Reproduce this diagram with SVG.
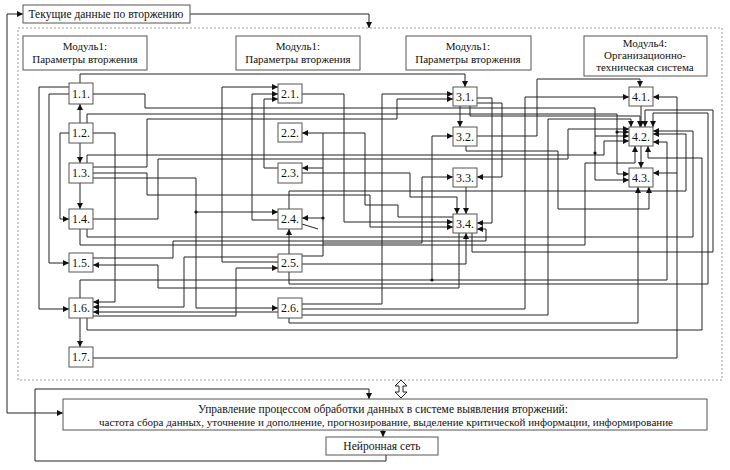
<svg xmlns="http://www.w3.org/2000/svg" width="730" height="470" viewBox="0 0 730 470">
<style>
.bx{fill:#fff;stroke:#555;stroke-width:1}
.t{font-family:"Liberation Serif","Times New Roman",serif;font-size:11px;fill:#111;text-anchor:middle}
.n{font-size:12px}
.c{fill:none;stroke:#222;stroke-width:1}
.a{marker-end:url(#ah)}
.dash{fill:none;stroke:#999;stroke-width:1;stroke-dasharray:2,2}
</style>
<defs>
<marker id="ah" viewBox="0 0 6 6" refX="6" refY="3" markerWidth="6" markerHeight="6" markerUnits="userSpaceOnUse" orient="auto">
<path d="M0,0 L6,3 L0,6 z" fill="#111"/>
</marker>
</defs>
<rect width="730" height="470" fill="#fff"/>
<rect class="dash" x="18" y="28" width="704" height="352"/>

<g id="connectors">
<polyline class="c a" points="190,14 369,14 369,28"/>
<polyline class="c a" points="7,14 23,14"/>
<polyline class="c a" points="7,14 7,413 63,413"/>
<polyline class="c a" points="386,455 386,461 35,461 35,389 369,389 369,399"/>
<polyline class="c a" points="383,430 383,437"/>

<polyline class="c a" points="80,123 80,104"/>
<polyline class="c a" points="80,143 80,163"/>
<polyline class="c a" points="80,183 80,209"/>
<polyline class="c a" points="80,318 80,347"/>
<polyline class="c a" points="69,87 39,87 39,309 69,309"/>
<polyline class="c a" points="69,94 49,94 49,263 69,263"/>
<polyline class="c a" points="69,133 60,133 60,219 69,219"/>
<polyline class="c a" points="93,133 115,133 115,302 93,302"/>

<polyline class="c a" points="80,83 80,74 465,74 465,87"/>
<polyline class="c a" points="93,94 145,94 145,108 595,108 595,180 629,180"/>
<polyline class="c a" points="595,136 629,136"/>
<polyline class="c a" points="87,123 87,114 617,114 617,174 629,174"/>
<polyline class="c a" points="617,132 629,132"/>
<polyline class="c a" points="93,167 147,167 147,119 397,119 397,99 453,99"/>
<polyline class="c a" points="93,173 147,173 147,195 370,195 370,227 453,227"/>
<polyline class="c a" points="93,178 196,178 196,212 278,212"/>
<polyline class="c a" points="196,212 196,308 278,308"/>
<polyline class="c a" points="87,163 87,155 604,155 604,141 629,141"/>

<polyline class="c a" points="93,219 158,219 158,159 568,159 568,129 629,129"/>
<polyline class="c a" points="87,229 87,237 693,237 693,131 653,131"/>
<polyline class="c a" points="80,229 80,245 585,245 585,163 635,163 635,146"/>
<polyline class="c a" points="93,258 173,258 173,241 486,241 486,229 477,229"/>
<polyline class="c a" points="459,233 459,288 158,288 158,265 93,265"/>

<polyline class="c a" points="80,298 80,280 667,280 667,142 653,142"/>
<polyline class="c a" points="432,280 432,136 453,136"/>
<polyline class="c a" points="93,316 236,316 236,268 278,268"/>
<polyline class="c a" points="87,318 87,330 702,330 702,158 648,158 648,146"/>
<polyline class="c a" points="278,257 184,257 184,307 93,307"/>
<polyline class="c a" points="278,312 93,312"/>
<polyline class="c a" points="93,358 677,358 677,97 653,97"/>
<polyline class="c a" points="677,173 653,173"/>

<polyline class="c a" points="278,262 222,262 222,87 278,87"/>
<polyline class="c a" points="278,220 252,220 252,94 278,94"/>
<polyline class="c a" points="278,168 264,168 264,99 278,99"/>
<polyline class="c a" points="302,94 344,94 344,222 453,222"/>
<polyline class="c" points="453,217 398,217 398,205 365,205 365,133 323,133"/>
<polyline class="c a" points="302,256 323,256 323,133 302,133"/>
<polyline class="c a" points="323,168 302,168"/>
<polyline class="c a" points="323,218 302,218"/>
<polyline class="c a" points="323,243 422,243 422,177 453,177"/>
<polyline class="c a" points="302,173 410,173 410,197 457,197 457,214"/>
<polyline class="c a" points="289,209 289,191 686,191 686,134 653,134"/>
<polyline class="c a" points="289,254 289,229"/>
<polyline class="c" points="302,224 318,229"/>
<polyline class="c a" points="302,264 466,264 466,233"/>
<polyline class="c a" points="289,272 289,284 708,284 708,113 653,113 653,127"/>
<polyline class="c a" points="289,318 289,323 638,323 638,187"/>
<polyline class="c a" points="302,304 382,304 382,94 453,94"/>
<polyline class="c a" points="302,309 525,309 525,97 629,97"/>
<polyline class="c a" points="302,315 548,315 548,119 631,119 631,127"/>

<polyline class="c a" points="460,106 460,127"/>
<polyline class="c a" points="470,106 470,116 640,116 640,127"/>
<polyline class="c a" points="477,98 492,98 492,223 477,223"/>
<polyline class="c a" points="477,103 502,103 502,177 477,177"/>
<polyline class="c a" points="477,136 537,136 537,79 640,79 640,87"/>
<polyline class="c a" points="466,146 466,151 558,151 558,209 649,209 649,187"/>
<polyline class="c a" points="466,187 466,214"/>
<polyline class="c a" points="472,233 472,252 713,252 713,110 645,110 645,127"/>
<polyline class="c a" points="641,106 641,127"/>
<polyline class="c a" points="641,146 641,168"/>

<circle cx="196" cy="212" r="1.6" fill="#111"/>
<circle cx="323" cy="218" r="1.6" fill="#111"/>
<circle cx="432" cy="280" r="1.6" fill="#111"/>
<circle cx="617" cy="132" r="1.6" fill="#111"/>
<circle cx="595" cy="153" r="1.6" fill="#111"/>
<polygon points="401,380 407,386 403,386 403,392 407,392 401,398 395,392 399,392 399,386 395,386" fill="#fff" stroke="#222" stroke-width="1"/>
</g>

<g id="title"><rect class="bx" x="23" y="5" width="167" height="18"/><text class="t" x="106" y="18" style="font-size:11.5px">Текущие данные по вторжению</text></g>
<g id="module1"><rect class="bx" x="23" y="36" width="124" height="34"/><text class="t" x="85" y="50">Модуль1:</text><text class="t" x="85" y="63">Параметры вторжения</text></g>
<g id="module2"><rect class="bx" x="236" y="36" width="124" height="34"/><text class="t" x="298" y="50">Модуль1:</text><text class="t" x="298" y="63">Параметры вторжения</text></g>
<g id="module3"><rect class="bx" x="406" y="36" width="125" height="34"/><text class="t" x="468" y="50">Модуль1:</text><text class="t" x="468" y="63">Параметры вторжения</text></g>
<g id="module4"><rect class="bx" x="584" y="36" width="123" height="40"/><text class="t" x="645" y="47">Модуль4:</text><text class="t" x="645" y="59">Организационно-</text><text class="t" x="645" y="71">техническая система</text></g>

<g id="n11"><rect class="bx" x="69" y="83" width="24" height="21"/><text class="t n" x="81" y="98">1.1.</text></g>
<g id="n12"><rect class="bx" x="69" y="123" width="24" height="20"/><text class="t n" x="81" y="137">1.2.</text></g>
<g id="n13"><rect class="bx" x="69" y="163" width="24" height="20"/><text class="t n" x="81" y="177">1.3.</text></g>
<g id="n14"><rect class="bx" x="69" y="209" width="24" height="20"/><text class="t n" x="81" y="223">1.4.</text></g>
<g id="n15"><rect class="bx" x="69" y="253" width="24" height="19"/><text class="t n" x="81" y="267">1.5.</text></g>
<g id="n16"><rect class="bx" x="69" y="298" width="24" height="20"/><text class="t n" x="81" y="312">1.6.</text></g>
<g id="n17"><rect class="bx" x="69" y="347" width="24" height="20"/><text class="t n" x="81" y="361">1.7.</text></g>

<g id="n21"><rect class="bx" x="278" y="84" width="24" height="19"/><text class="t n" x="290" y="98">2.1.</text></g>
<g id="n22"><rect class="bx" x="278" y="123" width="24" height="19"/><text class="t n" x="290" y="137">2.2.</text></g>
<g id="n23"><rect class="bx" x="278" y="163" width="24" height="20"/><text class="t n" x="290" y="177">2.3.</text></g>
<g id="n24"><rect class="bx" x="278" y="209" width="24" height="20"/><text class="t n" x="290" y="223">2.4.</text></g>
<g id="n25"><rect class="bx" x="278" y="254" width="24" height="18"/><text class="t n" x="290" y="267">2.5.</text></g>
<g id="n26"><rect class="bx" x="278" y="298" width="24" height="20"/><text class="t n" x="290" y="312">2.6.</text></g>

<g id="n31"><rect class="bx" x="453" y="87" width="24" height="19"/><text class="t n" x="465" y="101">3.1.</text></g>
<g id="n32"><rect class="bx" x="453" y="127" width="24" height="19"/><text class="t n" x="465" y="141">3.2.</text></g>
<g id="n33"><rect class="bx" x="453" y="168" width="24" height="19"/><text class="t n" x="465" y="182">3.3.</text></g>
<g id="n34"><rect class="bx" x="453" y="214" width="24" height="19"/><text class="t n" x="465" y="228">3.4.</text></g>

<g id="n41"><rect class="bx" x="629" y="87" width="24" height="19"/><text class="t n" x="641" y="101">4.1.</text></g>
<g id="n42"><rect class="bx" x="629" y="127" width="24" height="19"/><text class="t n" x="641" y="141">4.2.</text></g>
<g id="n43"><rect class="bx" x="629" y="168" width="24" height="19"/><text class="t n" x="641" y="182">4.3.</text></g>

<g id="control"><rect class="bx" x="63" y="399" width="644" height="31"/><text class="t" x="383" y="413" style="font-size:11.5px">Управление процессом обработки данных в системе выявления вторжений:</text><text class="t" x="386" y="426" style="font-size:11px">частота сбора данных, уточнение и дополнение, прогнозирование, выделение критической информации, информирование</text></g>
<g id="neuro"><rect class="bx" x="326" y="437" width="112" height="18"/><text class="t" x="382" y="450" style="font-size:11.5px">Нейронная сеть</text></g>
</svg>
